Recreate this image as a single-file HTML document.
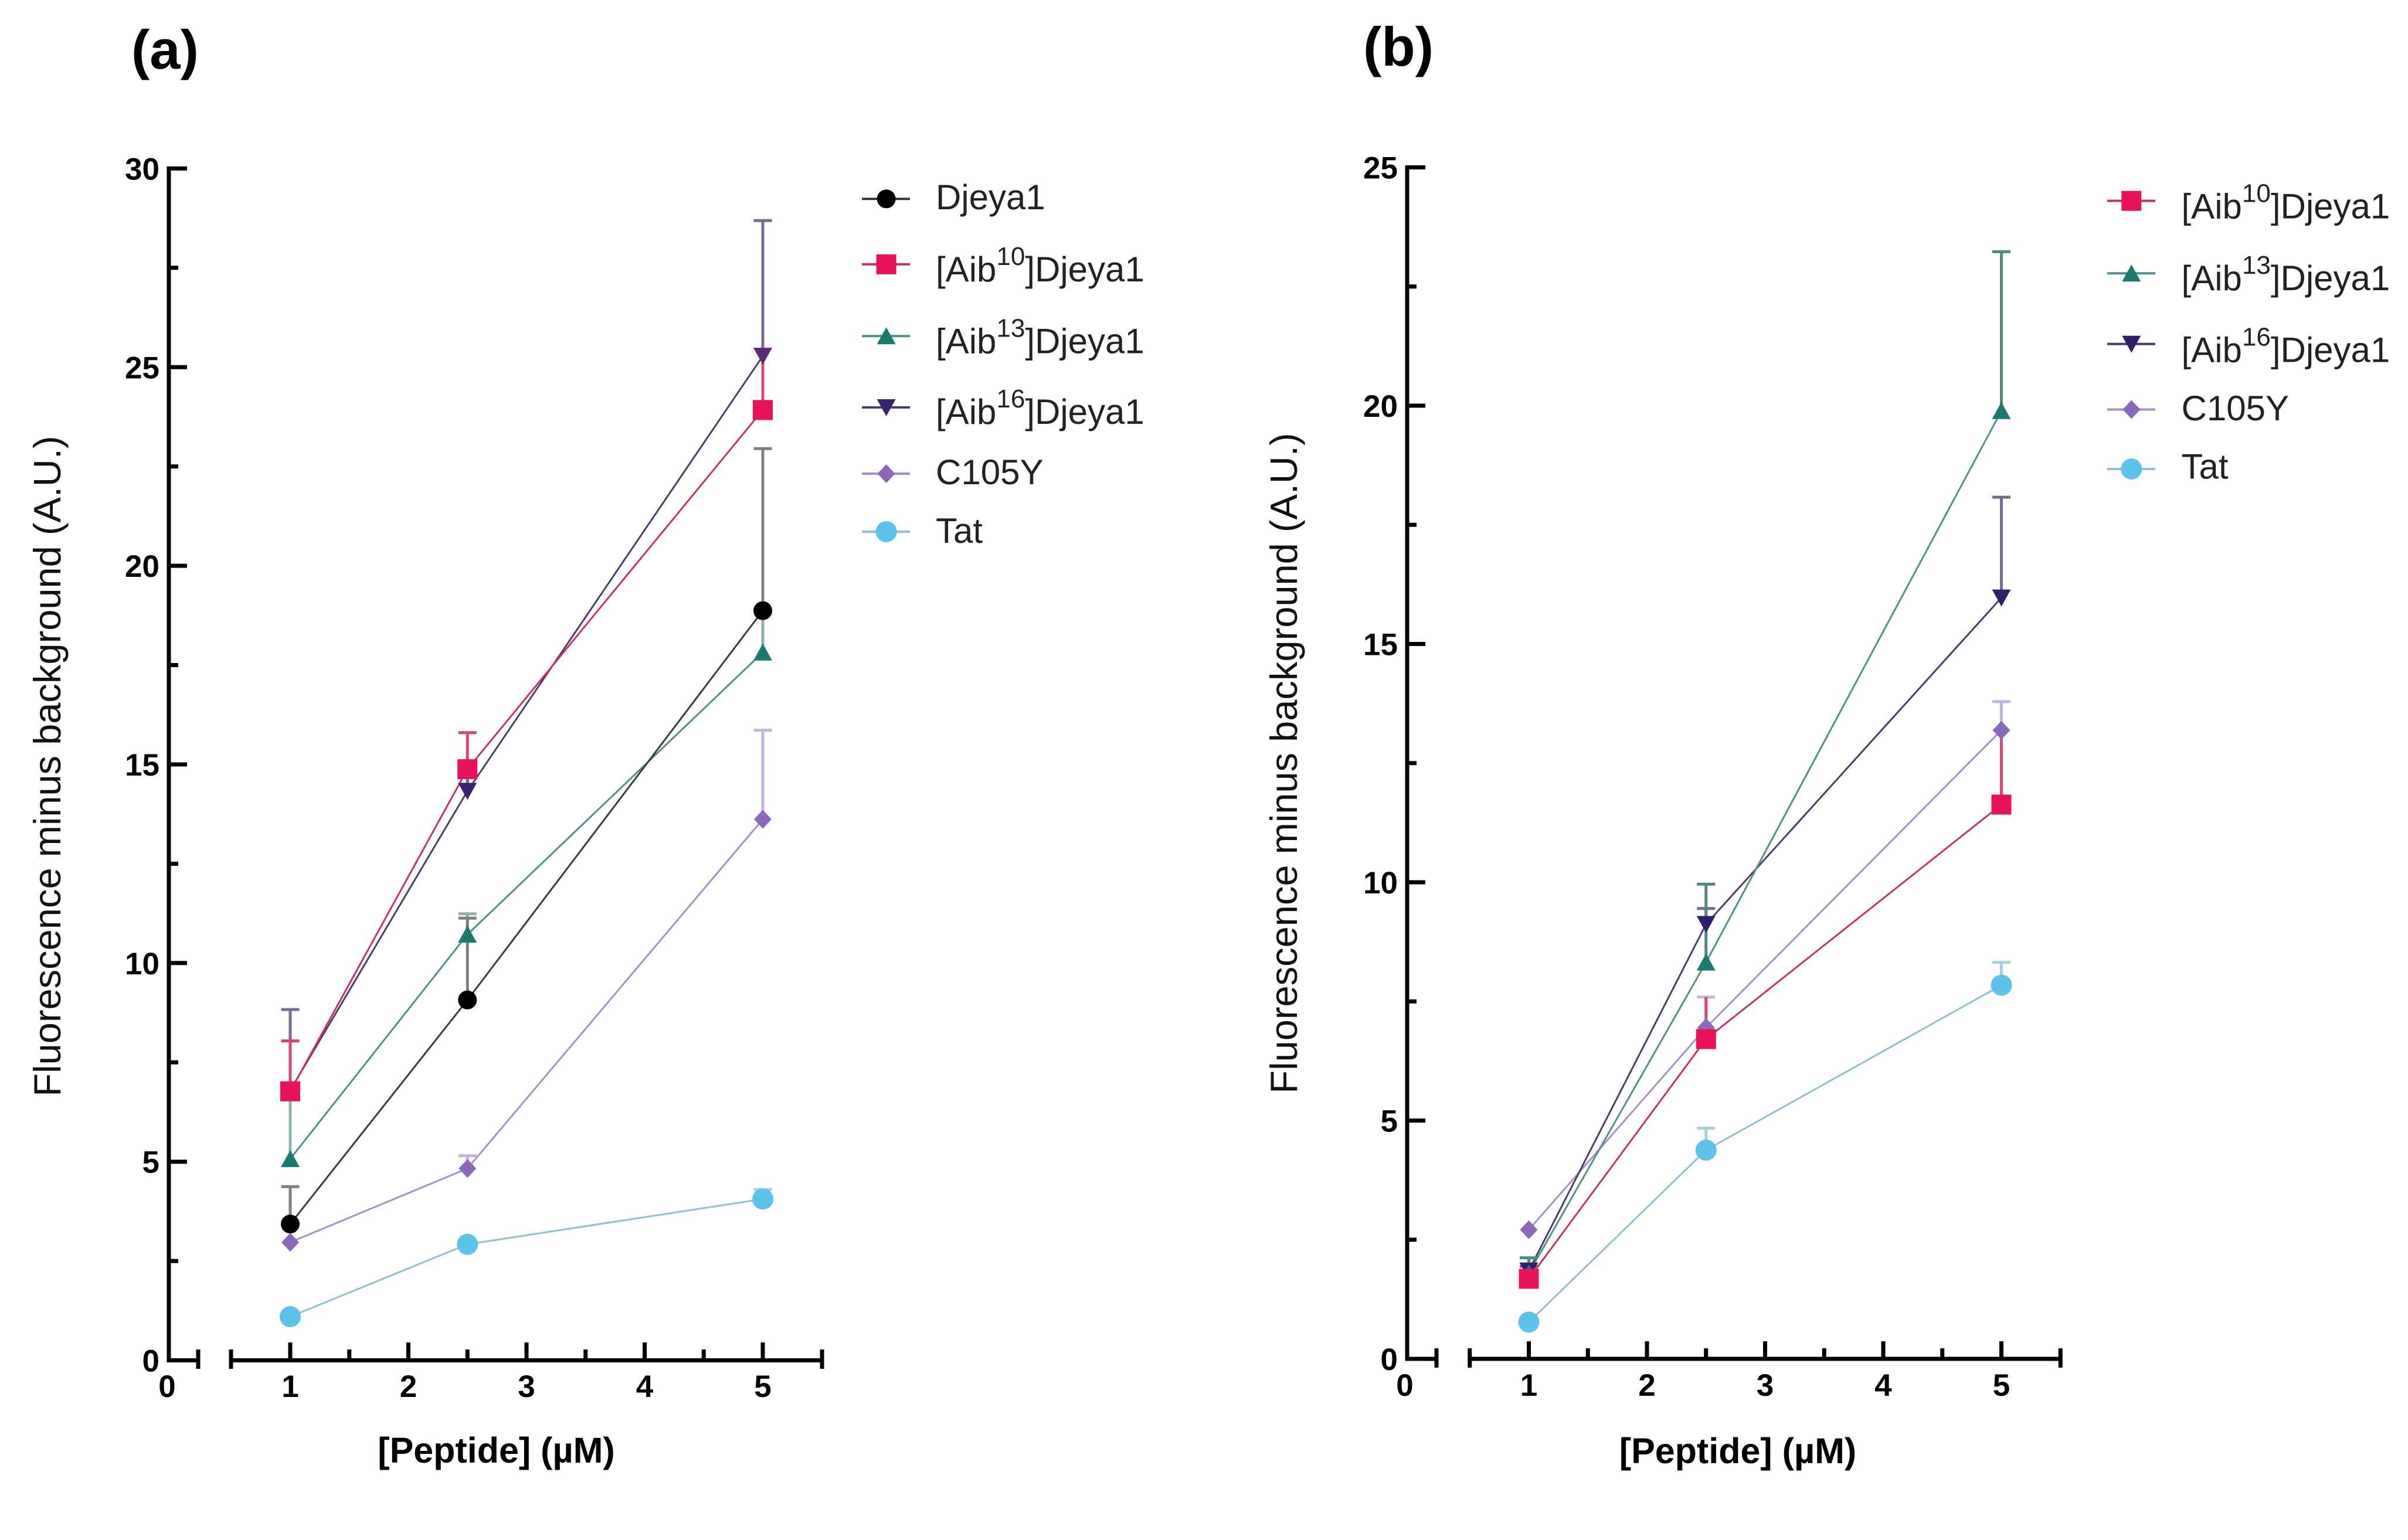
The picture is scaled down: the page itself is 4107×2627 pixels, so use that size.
<!DOCTYPE html>
<html>
<head>
<meta charset="utf-8">
<style>
html,body{margin:0;padding:0;background:#ffffff;}
svg{display:block;}
</style>
</head>
<body>
<svg xmlns="http://www.w3.org/2000/svg" width="4107" height="2627" viewBox="0 0 4107 2627" font-family="'Liberation Sans', Arial, sans-serif">
<defs>
  <circle id="mc" cx="0" cy="0" r="16"/>
  <circle id="mt" cx="0" cy="0" r="18"/>
  <rect id="ms" x="-17" y="-17" width="34" height="34"/>
  <polygon id="mu" points="0,-15 16,14 -16,14"/>
  <polygon id="md" points="-16,-14 16,-14 0,15"/>
  <polygon id="mdi" points="0,-16 15,0 0,16 -15,0"/>
</defs>
<rect width="4107" height="2627" fill="#ffffff"/>

<!-- ================= PANEL A ================= -->
<text x="224" y="117" font-size="94" font-weight="bold" fill="#000">(a)</text>

<!-- axes -->
<g stroke="#000" stroke-width="7" fill="none" stroke-linejoin="miter">
  <path d="M319,287.4 H288 V2320.5 H338"/>
  <line x1="338" y1="2302" x2="338" y2="2335"/>
  <line x1="394" y1="2320.5" x2="1402" y2="2320.5"/>
  <line x1="394" y1="2302" x2="394" y2="2335"/>
  <line x1="1402" y1="2302" x2="1402" y2="2335"/>
  <!-- y ticks major -->
  <line x1="288" y1="1981.7" x2="319" y2="1981.7"/>
  <line x1="288" y1="1642.8" x2="319" y2="1642.8"/>
  <line x1="288" y1="1304.0" x2="319" y2="1304.0"/>
  <line x1="288" y1="965.1" x2="319" y2="965.1"/>
  <line x1="288" y1="626.3" x2="319" y2="626.3"/>
  <!-- y ticks minor -->
  <line x1="288" y1="2151.1" x2="304" y2="2151.1"/>
  <line x1="288" y1="1812.2" x2="304" y2="1812.2"/>
  <line x1="288" y1="1473.4" x2="304" y2="1473.4"/>
  <line x1="288" y1="1134.5" x2="304" y2="1134.5"/>
  <line x1="288" y1="795.7" x2="304" y2="795.7"/>
  <line x1="288" y1="456.8" x2="304" y2="456.8"/>
  <!-- x ticks major -->
  <line x1="495" y1="2320.5" x2="495" y2="2290"/>
  <line x1="696.5" y1="2320.5" x2="696.5" y2="2290"/>
  <line x1="898" y1="2320.5" x2="898" y2="2290"/>
  <line x1="1099.5" y1="2320.5" x2="1099.5" y2="2290"/>
  <line x1="1301" y1="2320.5" x2="1301" y2="2290"/>
  <!-- x ticks minor -->
  <line x1="595.75" y1="2320.5" x2="595.75" y2="2302"/>
  <line x1="797.25" y1="2320.5" x2="797.25" y2="2302"/>
  <line x1="998.75" y1="2320.5" x2="998.75" y2="2302"/>
  <line x1="1200.25" y1="2320.5" x2="1200.25" y2="2302"/>
</g>

<!-- y tick labels -->
<g font-size="53" font-weight="bold" fill="#000" text-anchor="end">
  <text x="272" y="2339.5">0</text>
  <text x="272" y="2000.7">5</text>
  <text x="272" y="1661.8">10</text>
  <text x="272" y="1323.0">15</text>
  <text x="272" y="984.1">20</text>
  <text x="272" y="645.3">25</text>
  <text x="272" y="306.4">30</text>
</g>
<!-- x tick labels -->
<g font-size="53" font-weight="bold" fill="#000" text-anchor="middle">
  <text x="285" y="2383">0</text>
  <text x="495" y="2383">1</text>
  <text x="696.5" y="2383">2</text>
  <text x="898" y="2383">3</text>
  <text x="1099.5" y="2383">4</text>
  <text x="1301" y="2383">5</text>
</g>

<text transform="translate(103,1307) rotate(-90)" font-size="65" text-anchor="middle" fill="#111">Fluorescence minus background (A.U.)</text>
<text x="846.5" y="2495" font-size="61" font-weight="bold" text-anchor="middle" fill="#000">[Peptide] (µM)</text>

<!-- series lines A -->
<g fill="none" stroke-width="3">
  <polyline points="495,2246.0 797.25,2122.6 1301,2045.4" stroke="#8ebfd2"/>
  <polyline points="495,2119.2 797.25,1993.2 1301,1397.5" stroke="#a48fcb"/>
  <polyline points="495,1859.7 797.25,1349.4 1301,607.3" stroke="#4a3c6a"/>
  <polyline points="495,1976.9 797.25,1594.0 1301,1112.8" stroke="#4f9088"/>
  <polyline points="495,1861.7 797.25,1312.1 1301,699.4" stroke="#c8306a"/>
  <polyline points="495,2088.05 797.25,1705.8 1301,1041.7" stroke="#3a3a3a"/>
</g>

<!-- error bars A -->
<g stroke-width="5" fill="none">
  <g stroke="#a8d0dc">
    <line x1="1301" y1="2045.4" x2="1301" y2="2029.1"/><line x1="1285.5" y1="2029.1" x2="1316.5" y2="2029.1"/>
  </g>
  <g stroke="#c3b3de">
    <line x1="797.25" y1="1993.2" x2="797.25" y2="1971.5"/><line x1="781.75" y1="1971.5" x2="812.75" y2="1971.5"/>
    <line x1="1301" y1="1397.5" x2="1301" y2="1245.7"/><line x1="1285.5" y1="1245.7" x2="1316.5" y2="1245.7"/>
  </g>
  <g stroke="#7a6a90">
    <line x1="495" y1="1859.7" x2="495" y2="1722.1"/><line x1="479.5" y1="1722.1" x2="510.5" y2="1722.1"/>
    <line x1="797.25" y1="1349.4" x2="797.25" y2="1317.5"/>
    <line x1="1301" y1="607.3" x2="1301" y2="376.2"/><line x1="1285.5" y1="376.2" x2="1316.5" y2="376.2"/>
  </g>
  <g stroke="#8fb0ab">
    <line x1="495" y1="1976.9" x2="495" y2="1873.2"/>
    <line x1="797.25" y1="1594.0" x2="797.25" y2="1558.8"/><line x1="781.75" y1="1558.8" x2="812.75" y2="1558.8"/>
    <line x1="1301" y1="1112.8" x2="1301" y2="1053.2"/>
  </g>
  <g stroke="#d9457a">
    <line x1="495" y1="1861.7" x2="495" y2="1775.6"/><line x1="479.5" y1="1775.6" x2="510.5" y2="1775.6"/>
    <line x1="797.25" y1="1312.1" x2="797.25" y2="1249.7"/><line x1="781.75" y1="1249.7" x2="812.75" y2="1249.7"/>
    <line x1="1301" y1="699.4" x2="1301" y2="610"/>
  </g>
  <g stroke="#7f7f7f">
    <line x1="495" y1="2088.05" x2="495" y2="2024.3"/><line x1="479.5" y1="2024.3" x2="510.5" y2="2024.3"/>
    <line x1="797.25" y1="1705.8" x2="797.25" y2="1566.2"/><line x1="781.75" y1="1566.2" x2="812.75" y2="1566.2"/>
    <line x1="1301" y1="1041.7" x2="1301" y2="765.2"/><line x1="1285.5" y1="765.2" x2="1316.5" y2="765.2"/>
  </g>
</g>

<!-- markers A -->
<g fill="#5ec3ec">
  <use href="#mt" x="495" y="2246.0"/><use href="#mt" x="797.25" y="2122.6"/><use href="#mt" x="1301" y="2045.4"/>
</g>
<g fill="#8a68bc">
  <use href="#mdi" x="495" y="2119.2"/><use href="#mdi" x="797.25" y="1993.2"/><use href="#mdi" x="1301" y="1397.5"/>
</g>
<g fill="#3b2170">
  <use href="#md" x="495" y="1859.7"/><use href="#md" x="797.25" y="1349.4"/><use href="#md" x="1301" y="607.3" fill="#5a2a72"/>
</g>
<g fill="#1a7a70">
  <use href="#mu" x="495" y="1976.9"/><use href="#mu" x="797.25" y="1594.0"/><use href="#mu" x="1301" y="1112.8"/>
</g>
<g fill="#e8125c">
  <use href="#ms" x="495" y="1861.7"/><use href="#ms" x="797.25" y="1312.1"/><use href="#ms" x="1301" y="699.4"/>
</g>
<g fill="#000">
  <use href="#mc" x="495" y="2088.05"/><use href="#mc" x="797.25" y="1705.8"/><use href="#mc" x="1301" y="1041.7"/>
</g>

<!-- legend A -->
<g stroke-width="4">
  <line x1="1470" y1="339.3" x2="1552" y2="339.3" stroke="#333"/>
  <line x1="1470" y1="450.9" x2="1552" y2="450.9" stroke="#c8306a"/>
  <line x1="1470" y1="573.2" x2="1552" y2="573.2" stroke="#4f9088"/>
  <line x1="1470" y1="695" x2="1552" y2="695" stroke="#4a3c6a"/>
  <line x1="1470" y1="808" x2="1552" y2="808" stroke="#a48fcb"/>
  <line x1="1470" y1="907" x2="1552" y2="907" stroke="#8ebfd2"/>
</g>
<use href="#mc" x="1511.6" y="339.3" fill="#000"/>
<use href="#ms" x="1511.6" y="450.9" fill="#e8125c"/>
<use href="#mu" x="1511.6" y="573.2" fill="#1a7a70"/>
<use href="#md" x="1511.6" y="695" fill="#3b2170"/>
<use href="#mdi" x="1511.6" y="808" fill="#8a68bc"/>
<use href="#mt" x="1511.6" y="907" fill="#5ec3ec"/>
<g font-size="60" fill="#222">
  <text x="1596" y="357">Djeya1</text>
  <text x="1596" y="480">[Aib<tspan font-size="44" dy="-28">10</tspan><tspan dy="28">]Djeya1</tspan></text>
  <text x="1596" y="602.7">[Aib<tspan font-size="44" dy="-28">13</tspan><tspan dy="28">]Djeya1</tspan></text>
  <text x="1596" y="723">[Aib<tspan font-size="44" dy="-28">16</tspan><tspan dy="28">]Djeya1</tspan></text>
  <text x="1596" y="826">C105Y</text>
  <text x="1596" y="926">Tat</text>
</g>

<!-- ================= PANEL B ================= -->
<text x="2325" y="112" font-size="94" font-weight="bold" fill="#000">(b)</text>

<g stroke="#000" stroke-width="7" fill="none" stroke-linejoin="miter">
  <path d="M2431,285.5 H2400 V2318 H2450"/>
  <line x1="2450" y1="2300" x2="2450" y2="2333"/>
  <line x1="2506.75" y1="2318" x2="3514.25" y2="2318"/>
  <line x1="2506.75" y1="2300" x2="2506.75" y2="2333"/>
  <line x1="3514.25" y1="2300" x2="3514.25" y2="2333"/>
  <!-- y major -->
  <line x1="2400" y1="1911.5" x2="2431" y2="1911.5"/>
  <line x1="2400" y1="1505" x2="2431" y2="1505"/>
  <line x1="2400" y1="1098.5" x2="2431" y2="1098.5"/>
  <line x1="2400" y1="692" x2="2431" y2="692"/>
  <!-- y minor -->
  <line x1="2400" y1="2114.75" x2="2416" y2="2114.75"/>
  <line x1="2400" y1="1708.25" x2="2416" y2="1708.25"/>
  <line x1="2400" y1="1301.75" x2="2416" y2="1301.75"/>
  <line x1="2400" y1="895.25" x2="2416" y2="895.25"/>
  <line x1="2400" y1="488.75" x2="2416" y2="488.75"/>
  <!-- x major -->
  <line x1="2607.5" y1="2318" x2="2607.5" y2="2288"/>
  <line x1="2809" y1="2318" x2="2809" y2="2288"/>
  <line x1="3010.5" y1="2318" x2="3010.5" y2="2288"/>
  <line x1="3212" y1="2318" x2="3212" y2="2288"/>
  <line x1="3413.5" y1="2318" x2="3413.5" y2="2288"/>
  <!-- x minor -->
  <line x1="2708.25" y1="2318" x2="2708.25" y2="2300"/>
  <line x1="2909.75" y1="2318" x2="2909.75" y2="2300"/>
  <line x1="3111.25" y1="2318" x2="3111.25" y2="2300"/>
  <line x1="3312.75" y1="2318" x2="3312.75" y2="2300"/>
</g>

<g font-size="53" font-weight="bold" fill="#000" text-anchor="end">
  <text x="2384" y="2337">0</text>
  <text x="2384" y="1930.5">5</text>
  <text x="2384" y="1524">10</text>
  <text x="2384" y="1117.5">15</text>
  <text x="2384" y="711">20</text>
  <text x="2384" y="304.5">25</text>
</g>
<g font-size="53" font-weight="bold" fill="#000" text-anchor="middle">
  <text x="2396" y="2381">0</text>
  <text x="2607.5" y="2381">1</text>
  <text x="2809" y="2381">2</text>
  <text x="3010.5" y="2381">3</text>
  <text x="3212" y="2381">4</text>
  <text x="3413.5" y="2381">5</text>
</g>

<text transform="translate(2212,1302) rotate(-90)" font-size="65" text-anchor="middle" fill="#111">Fluorescence minus background (A.U.)</text>
<text x="2964" y="2496" font-size="61" font-weight="bold" text-anchor="middle" fill="#000">[Peptide] (µM)</text>

<!-- series lines B -->
<g fill="none" stroke-width="3">
  <polyline points="2607.5,2255.4 2909.75,1961.9 3413.5,1680.6" stroke="#8ebfd2"/>
  <polyline points="2607.5,2097.7 2909.75,1753.0 3413.5,1245.6" stroke="#a48fcb"/>
  <polyline points="2607.5,2167.6 2909.75,1576.5 3413.5,1019.6" stroke="#4a3c6a"/>
  <polyline points="2607.5,2171.7 2909.75,1641.6 3413.5,700.9" stroke="#4f9088"/>
  <polyline points="2607.5,2181.4 2909.75,1772.5 3413.5,1372.5" stroke="#c8306a"/>
</g>

<!-- error bars B -->
<g stroke-width="5" fill="none">
  <g stroke="#a8d0dc">
    <line x1="2909.75" y1="1961.9" x2="2909.75" y2="1924.5"/><line x1="2894.25" y1="1924.5" x2="2925.25" y2="1924.5"/>
    <line x1="3413.5" y1="1680.6" x2="3413.5" y2="1641.6"/><line x1="3398" y1="1641.6" x2="3429" y2="1641.6"/>
  </g>
  <g stroke="#c3b3de">
    <line x1="2909.75" y1="1753.0" x2="2909.75" y2="1700.9"/><line x1="2894.25" y1="1700.9" x2="2925.25" y2="1700.9"/>
    <line x1="3413.5" y1="1245.6" x2="3413.5" y2="1196.9"/><line x1="3398" y1="1196.9" x2="3429" y2="1196.9"/>
  </g>
  <g stroke="#7a6a90">
    <line x1="2607.5" y1="2167.6" x2="2607.5" y2="2160.3"/><line x1="2592" y1="2160.3" x2="2623" y2="2160.3"/>
    <line x1="2909.75" y1="1576.5" x2="2909.75" y2="1549.7"/><line x1="2894.25" y1="1549.7" x2="2925.25" y2="1549.7"/>
    <line x1="3413.5" y1="1019.6" x2="3413.5" y2="848.1"/><line x1="3398" y1="848.1" x2="3429" y2="848.1"/>
  </g>
  <g stroke="#4f8a82">
    <line x1="2607.5" y1="2171.7" x2="2607.5" y2="2145.6"/><line x1="2592" y1="2145.6" x2="2623" y2="2145.6"/>
    <line x1="2909.75" y1="1641.6" x2="2909.75" y2="1508.3"/><line x1="2894.25" y1="1508.3" x2="2925.25" y2="1508.3"/>
    <line x1="3413.5" y1="700.9" x2="3413.5" y2="429.4"/><line x1="3398" y1="429.4" x2="3429" y2="429.4"/>
  </g>
  <g stroke="#d9457a">
    <line x1="2607.5" y1="2181.4" x2="2607.5" y2="2160.3"/>
    <line x1="2909.75" y1="1772.5" x2="2909.75" y2="1700.9"/>
    <line x1="3413.5" y1="1372.5" x2="3413.5" y2="1250"/>
  </g>
</g>

<!-- markers B -->
<g fill="#5ec3ec">
  <use href="#mt" x="2607.5" y="2255.4"/><use href="#mt" x="2909.75" y="1961.9"/><use href="#mt" x="3413.5" y="1680.6"/>
</g>
<g fill="#8a68bc">
  <use href="#mdi" x="2607.5" y="2097.7"/><use href="#mdi" x="2909.75" y="1753.0"/><use href="#mdi" x="3413.5" y="1245.6"/>
</g>
<g fill="#2f1f6a">
  <use href="#md" x="2607.5" y="2167.6"/><use href="#md" x="2909.75" y="1576.5"/><use href="#md" x="3413.5" y="1019.6"/>
</g>
<g fill="#1a7a70">
  <use href="#mu" x="2607.5" y="2171.7"/><use href="#mu" x="2909.75" y="1641.6"/><use href="#mu" x="3413.5" y="700.9"/>
</g>
<g fill="#e8125c">
  <use href="#ms" x="2607.5" y="2181.4"/><use href="#ms" x="2909.75" y="1772.5"/><use href="#ms" x="3413.5" y="1372.5"/>
</g>

<!-- legend B -->
<g stroke-width="4">
  <line x1="3594" y1="342.6" x2="3676" y2="342.6" stroke="#c8306a"/>
  <line x1="3594" y1="466.2" x2="3676" y2="466.2" stroke="#4f9088"/>
  <line x1="3594" y1="586.8" x2="3676" y2="586.8" stroke="#4a3c6a"/>
  <line x1="3594" y1="698.5" x2="3676" y2="698.5" stroke="#a48fcb"/>
  <line x1="3594" y1="800" x2="3676" y2="800" stroke="#8ebfd2"/>
</g>
<use href="#ms" x="3635.3" y="342.6" fill="#e8125c"/>
<use href="#mu" x="3635.3" y="466.2" fill="#1a7a70"/>
<use href="#md" x="3635.3" y="586.8" fill="#2f1f6a"/>
<use href="#mdi" x="3635.3" y="698.5" fill="#8a68bc"/>
<use href="#mt" x="3635.3" y="800" fill="#5ec3ec"/>
<g font-size="60" fill="#222">
  <text x="3720.5" y="372.5">[Aib<tspan font-size="44" dy="-28">10</tspan><tspan dy="28">]Djeya1</tspan></text>
  <text x="3720.5" y="495">[Aib<tspan font-size="44" dy="-28">13</tspan><tspan dy="28">]Djeya1</tspan></text>
  <text x="3720.5" y="617.4">[Aib<tspan font-size="44" dy="-28">16</tspan><tspan dy="28">]Djeya1</tspan></text>
  <text x="3720.5" y="717">C105Y</text>
  <text x="3720.5" y="816.4">Tat</text>
</g>
</svg>
</body>
</html>
